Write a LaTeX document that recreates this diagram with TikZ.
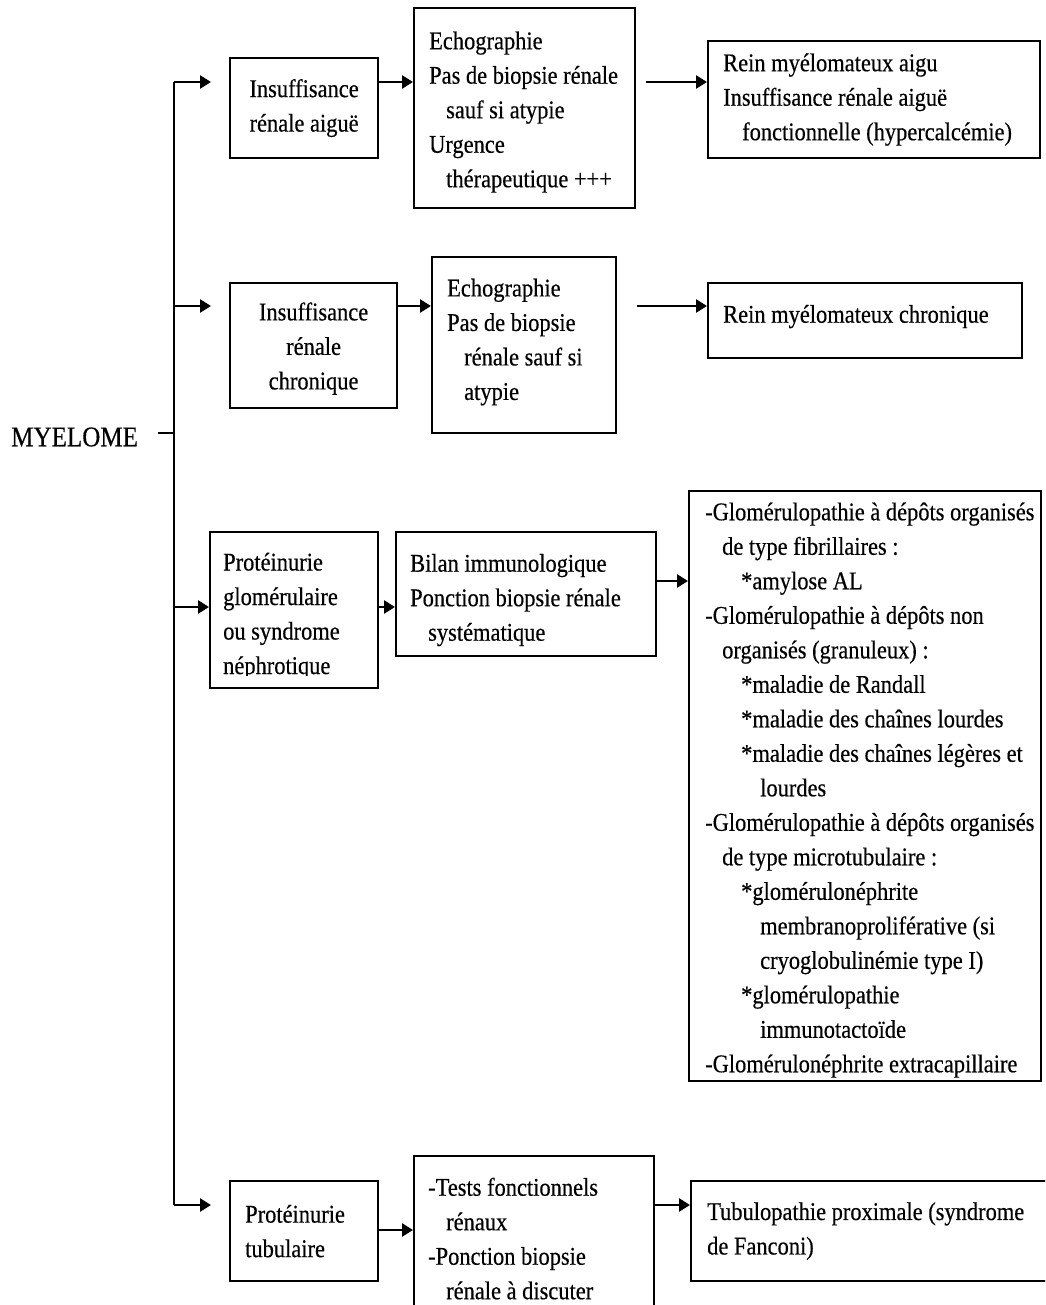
\documentclass[tikz,border=0pt]{standalone}
\usepackage{fontspec}
\setmainfont{Liberation Serif}[FakeStretch=0.88, FakeBold=0.4]
\usetikzlibrary{arrows.meta}
\newcommand{\lvone}{\hspace*{17pt}}
\newcommand{\lvtwo}{\hspace*{36pt}}
\newcommand{\lvthree}{\hspace*{55pt}}
\begin{document}
\begin{tikzpicture}[x=1pt,y=-1pt,
  font=\fontsize{25.5}{34.5}\selectfont,
  frame/.style={draw, line width=2.2pt, inner sep=0pt, anchor=north west},
  lbl/.style={inner sep=0pt, align=left, anchor=west},
  clbl/.style={inner sep=0pt, align=center},
  conn/.style={line width=2.6pt},
  arr/.style={conn, -{Triangle[length=11pt,width=13pt]}},
]
\clip (0,0) rectangle (1045,1305);

% branch levels on the trunk
\coordinate (t1) at (174,82);
\coordinate (t2) at (174,306);
\coordinate (tm) at (174,433);
\coordinate (t3) at (174,607);
\coordinate (t4) at (174,1205);
\coordinate (r3) at (0,581);
\coordinate (r4) at (0,1230);

% root
\node[inner sep=0pt, anchor=west, font=\fontsize{28.5}{34.5}\selectfont] (myel) at (11,437) {MYELOME};

% row 1
\node[frame, minimum width=148pt, minimum height=100pt] (a1) at (229,57) {};
\node[clbl] (a1t) at (a1.center) {Insuffisance\\rénale aiguë};
\node[frame, minimum width=221pt, minimum height=200pt] (b1) at (413,7) {};
\node[lbl] (b1t) at ([xshift=16pt, yshift=-4pt]b1.west)
  {Echographie\\Pas de biopsie rénale\\\lvone sauf si atypie\\Urgence\\\lvone thérapeutique +++};
\node[frame, minimum width=332pt, minimum height=117pt] (c1) at (707,40) {};
\node[lbl] (c1t) at ([xshift=16pt]c1.west)
  {Rein myélomateux aigu\\Insuffisance rénale aiguë\\\hspace*{19pt}fonctionnelle (hypercalcémie)};

% row 2
\node[frame, minimum width=167pt, minimum height=125pt] (a2) at (229,282) {};
\node[clbl] (a2t) at ([yshift=-3pt]a2.center) {Insuffisance\\rénale\\chronique};
\node[frame, minimum width=184pt, minimum height=176pt] (b2) at (431,256) {};
\node[lbl] (b2t) at ([xshift=16pt, yshift=3pt]b2.west)
  {Echographie\\Pas de biopsie\\\lvone rénale sauf si\\\lvone atypie};
\node[frame, minimum width=314pt, minimum height=75pt] (c2) at (707,282) {};
\node[lbl] (c2t) at ([xshift=16pt, yshift=4pt]c2.west) {Rein myélomateux chronique};

% row 3
\node[frame, minimum width=168pt, minimum height=156pt] (a3) at (209,531) {};
\begin{scope}
  \clip ([xshift=2pt, yshift=-2pt]a3.north west) rectangle ([xshift=-2pt, yshift=14pt]a3.south east);
  \node[lbl] (a3t) at ([xshift=14pt, yshift=-6pt]a3.west)
    {Protéinurie\\glomérulaire\\ou syndrome\\néphrotique};
\end{scope}
\node[frame, minimum width=260pt, minimum height=124pt] (b3) at (395,531) {};
\node[lbl] (b3t) at ([xshift=15pt, yshift=-6pt]b3.west)
  {Bilan immunologique\\Ponction biopsie rénale\\\hspace*{18pt}systématique};
\node[frame, minimum width=352pt, minimum height=590pt] (c3) at (688,490) {};
\node[lbl] (c3t) at ([xshift=17pt, yshift=-4pt]c3.west)
  {-Glomérulopathie à dépôts organisés\\
   \lvone de type fibrillaires :\\
   \lvtwo *amylose AL\\
   -Glomérulopathie à dépôts non\\
   \lvone organisés (granuleux) :\\
   \lvtwo *maladie de Randall\\
   \lvtwo *maladie des chaînes lourdes\\
   \lvtwo *maladie des chaînes légères et\\
   \lvthree lourdes\\
   -Glomérulopathie à dépôts organisés\\
   \lvone de type microtubulaire :\\
   \lvtwo *glomérulonéphrite\\
   \lvthree membranoproliférative (si\\
   \lvthree cryoglobulinémie type I)\\
   \lvtwo *glomérulopathie\\
   \lvthree immunotactoïde\\
   -Glomérulonéphrite extracapillaire};

% row 4
\node[frame, minimum width=148pt, minimum height=100pt] (a4) at (229,1180) {};
\node[lbl] (a4t) at ([xshift=16pt]a4.west) {Protéinurie\\tubulaire};
\node[frame, minimum width=240pt, minimum height=165pt] (b4) at (413,1155) {};
\node[lbl] (b4t) at ([xshift=15pt]b4.west)
  {-Tests fonctionnels\\\hspace*{18pt}rénaux\\-Ponction biopsie\\\hspace*{18pt}rénale à discuter};
\node[frame, minimum width=370pt, minimum height=100pt] (c4) at (690,1180) {};
\node[lbl] (c4t) at ([xshift=17pt]c4.west) {Tubulopathie proximale (syndrome\\de Fanconi)};

% trunk and root link
\draw[conn] (t1) -- (t4);
\draw[conn, shorten <=20pt] (myel.east |- tm) -- (tm);

% branches from the trunk
\draw[arr, shorten >=18pt] (t1) -- (t1 -| a1.west);
\draw[arr, shorten >=18pt] (t2) -- (t2 -| a2.west);
\draw[arr] (t3) -- (t3 -| a3.west);
\draw[arr, shorten >=18pt] (t4) -- (t4 -| a4.west);

% row links
\draw[arr] (t1 -| a1.east) -- (t1 -| b1.west);
\draw[arr, shorten <=10pt] (t1 -| b1.east) -- (t1 -| c1.west);
\draw[arr] (t2 -| a2.east) -- (t2 -| b2.west);
\draw[arr, shorten <=20pt] (t2 -| b2.east) -- (t2 -| c2.west);
\draw[arr] (t3 -| a3.east) -- (t3 -| b3.west);
\draw[arr] (r3 -| b3.east) -- (r3 -| c3.west);
\draw[arr] (r4 -| a4.east) -- (r4 -| b4.west);
\draw[arr] (t4 -| b4.east) -- (t4 -| c4.west);
\end{tikzpicture}
\end{document}
